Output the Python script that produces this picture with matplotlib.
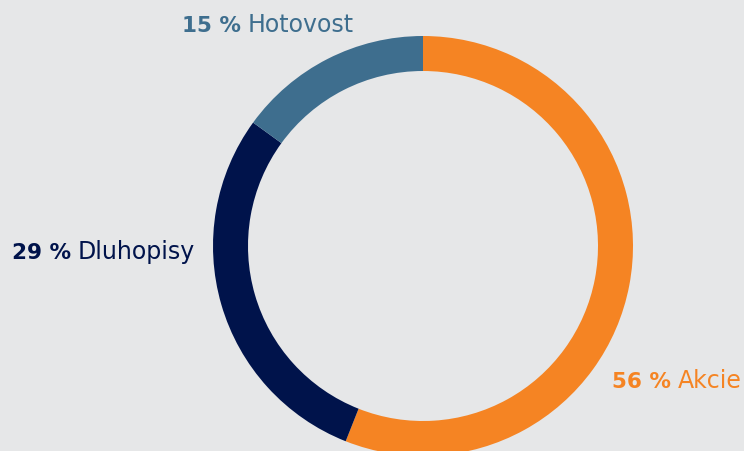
import matplotlib
matplotlib.use('Agg')
import matplotlib.pyplot as plt

# podíly portfolia
labels = ['Akcie', 'Dluhopisy', 'Hotovost']
shares = [56, 29, 15]
colors = ['#F58423', '#00134B', '#3E6E8E']

# pozice popisků (px, y od horního okraje)
label_pos = [(612, 388), (12, 259), (182, 32)]

W, H = 744, 452
fig = plt.figure(figsize=(W / 100, H / 100), dpi=100, facecolor='#E6E7E8')
ax = fig.add_axes([0, 0, 1, 1])
ax.set_facecolor('#E6E7E8')

ax.pie(shares, colors=colors, startangle=90, counterclock=False,
       center=(423, H - 247), radius=210,
       wedgeprops=dict(width=35, linewidth=0))
ax.set_xlim(0, W)
ax.set_ylim(0, H)
ax.set_aspect('equal')
ax.axis('off')

renderer = fig.canvas.get_renderer()
for lab, val, col, (x, y) in zip(labels, shares, colors, label_pos):
    t = ax.text(x, H - y, f'{val} %', color=col, fontsize=15.5, fontweight='bold',
                family='DejaVu Sans', ha='left', va='baseline')
    bb = t.get_window_extent(renderer=renderer)
    ax.text(bb.x1 + 7, H - y, lab, color=col, fontsize=17,
            family='DejaVu Sans', ha='left', va='baseline')

fig.savefig('out.png', dpi=100, facecolor=fig.get_facecolor())
